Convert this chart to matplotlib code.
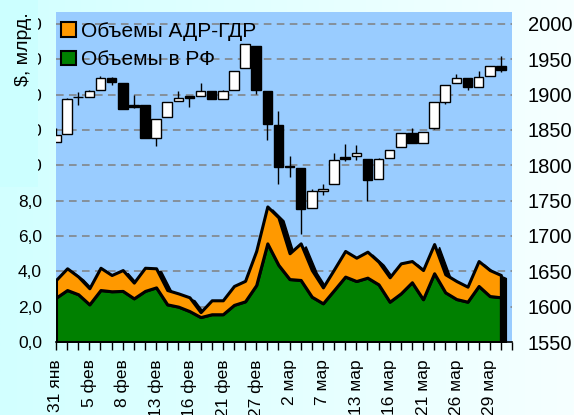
import numpy as np
import matplotlib
matplotlib.use('Agg')
import matplotlib.pyplot as plt
from matplotlib.patches import Patch, Rectangle
from matplotlib.colors import LinearSegmentedColormap
from matplotlib.transforms import ScaledTranslation

plt.rcParams['font.family'] = ['Liberation Sans', 'DejaVu Sans']

# trading days
dates = ['31 янв', '1 фев', '2 фев', '5 фев', '6 фев', '7 фев', '8 фев', '9 фев',
         '12 фев', '13 фев', '14 фев', '15 фев', '16 фев', '19 фев', '20 фев', '21 фев',
         '22 фев', '26 фев', '27 фев', '28 фев', '1 мар', '2 мар', '5 мар', '6 мар',
         '7 мар', '9 мар', '12 мар', '13 мар', '14 мар', '15 мар', '16 мар', '19 мар',
         '20 мар', '21 мар', '22 мар', '23 мар', '26 мар', '27 мар', '28 мар', '29 мар',
         '30 мар']

# index candles (right axis)
open_ = [1833, 1844, 1897, 1896, 1907, 1924, 1917, 1885, 1885, 1839, 1868, 1891, 1898, 1898,
         1905, 1894, 1906, 1937, 1969, 1905, 1857, 1799, 1796, 1739, 1764, 1773, 1812, 1813,
         1809, 1780, 1810, 1826, 1846, 1832, 1852, 1890, 1916, 1924, 1911, 1926, 1941]
high = [1852, 1895, 1904, 1907, 1926, 1925, 1917, 1899, 1885, 1866, 1890, 1905, 1898, 1917,
        1905, 1907, 1933, 1971, 1969, 1905, 1877, 1813, 1796, 1766, 1773, 1818, 1830, 1828,
        1809, 1810, 1821, 1846, 1853, 1847, 1889, 1914, 1929, 1924, 1934, 1940, 1954]
low = [1833, 1844, 1885, 1896, 1906, 1913, 1879, 1881, 1839, 1827, 1868, 1891, 1882, 1898,
       1894, 1894, 1906, 1937, 1901, 1836, 1774, 1784, 1703, 1739, 1758, 1773, 1806, 1807,
       1750, 1780, 1810, 1826, 1832, 1832, 1851, 1886, 1916, 1906, 1911, 1926, 1932]
close = [1843, 1894, 1896, 1905, 1923, 1918, 1879, 1883, 1839, 1866, 1890, 1895, 1895, 1905,
         1894, 1905, 1933, 1971, 1906, 1858, 1797, 1797, 1738, 1763, 1767, 1808, 1809, 1817,
         1779, 1809, 1821, 1846, 1832, 1847, 1889, 1914, 1924, 1911, 1925, 1940, 1935]

# volumes, $ bn (left axis)
vol_rf = [2.51, 2.94, 2.70, 2.13, 2.94, 2.87, 2.89, 2.47, 2.89, 3.09, 2.13, 2.00, 1.75, 1.41,
          1.57, 1.57, 2.10, 2.30, 3.22, 5.58, 4.36, 3.56, 3.51, 2.56, 2.19, 2.94, 3.70, 3.45,
          3.64, 3.26, 2.28, 2.75, 3.38, 2.42, 3.89, 2.81, 2.43, 2.28, 3.17, 2.60, 2.53]
vol_adr = [1.00, 1.23, 1.00, 0.91, 1.26, 0.92, 1.18, 0.89, 1.31, 1.08, 0.81, 0.75, 0.78, 0.28,
           0.79, 0.79, 1.07, 1.16, 1.93, 2.09, 2.69, 1.46, 2.07, 1.51, 0.90, 1.17, 1.45, 1.32,
           1.47, 1.28, 1.38, 1.70, 1.20, 1.65, 1.65, 1.02, 1.02, 0.85, 1.41, 1.47, 1.26]

x = np.arange(len(dates))
rf = np.array(vol_rf)
total = rf + np.array(vol_adr)

fig = plt.figure(figsize=(5.74, 4.15), dpi=100)

# background gradient
bgax = fig.add_axes([0, 0, 1, 1], zorder=-1)
cmap = LinearSegmentedColormap.from_list('bg', ['#d2ffff', '#f6ffff'])
bgax.imshow(np.linspace(0, 1, 256).reshape(1, -1), aspect='auto', cmap=cmap, extent=[0, 1, 0, 1])
bgax.axis('off')

ax = fig.add_axes([56 / 574, 73 / 415, 456 / 574, 330 / 415])
ax.set_facecolor('#99ccff')
ymax = 330 / 17.675
ax.set_xlim(0, 41)
ax.set_ylim(0, ymax)
ax.set_yticks(np.arange(0, 19, 2))
ax.set_yticklabels([f'{v:.1f}'.replace('.', ',') for v in np.arange(0, 19, 2)])
ax.set_axisbelow(True)
ax.yaxis.grid(True, color='#808080', linestyle=(0, (5, 3.5)), lw=1.1)

# 3d-ish shadow of the area
shadow = ax.fill_between(x, 0, total, color='black', zorder=2)
shadow.set_transform(ax.transData + ScaledTranslation(5 / 100, -3 / 100, fig.dpi_scale_trans))
ax.fill_between(x, 0, rf, facecolor='#008000', edgecolor='black', lw=2.2, zorder=3)
ax.fill_between(x, rf, total, facecolor='#ff9900', edgecolor='black', lw=2.2, zorder=3)

ax.set_xticks(np.arange(42))
ax.set_xticklabels([dates[k] if (k % 3 == 0 and k < len(dates)) else '' for k in range(42)],
                   rotation=90, fontsize=12.5)
ax.tick_params(axis='x', length=5.5, width=1, pad=7)
ax.tick_params(axis='y', length=0, pad=10, labelsize=12.5)
for s in ['top', 'left', 'right']:
    ax.spines[s].set_visible(False)
ax.spines['bottom'].set_linewidth(1.2)

ax2 = ax.twinx()
ax2.set_ylim(1550, 1550 + ymax * 25)
ax2.set_yticks(np.arange(1550, 2001, 50))
ax2.tick_params(axis='y', length=0, pad=11.5, labelsize=14.5)
for s in ax2.spines.values():
    s.set_visible(False)

for k in range(len(dates)):
    o, h, l, c = open_[k], high[k], low[k], close[k]
    ax2.vlines(k, l, h, color='black', lw=1, zorder=2)
    ax2.bar(k, max(abs(c - o), 1.0), bottom=min(o, c), width=0.86,
            color='white' if c >= o else 'black', edgecolor='black', lw=1, zorder=3)

handles = [Patch(facecolor='#ff9900', edgecolor='black', lw=1.5),
           Patch(facecolor='#008000', edgecolor='black', lw=1.5)]
ax2.legend(handles, ['Объемы АДР-ГДР', 'Объемы в РФ'], loc='upper left',
           bbox_to_anchor=(5 / 456, 1 - 10 / 330), frameon=False, fontsize=15,
           handlelength=0.7, handleheight=0.7, handletextpad=0.25,
           labelspacing=0.45, borderpad=0, borderaxespad=0)

# box hiding the upper left tick labels
fig.add_artist(Rectangle((0, (415 - 187) / 415), 38 / 574, 1, transform=fig.transFigure,
                         facecolor='#ccffff', edgecolor='none', zorder=5))
fig.text(23 / 574, 1 - 49 / 415, '$, млрд.', rotation=90, ha='center', va='center',
         fontsize=14, zorder=6)

fig.savefig('out.png', dpi=100)
